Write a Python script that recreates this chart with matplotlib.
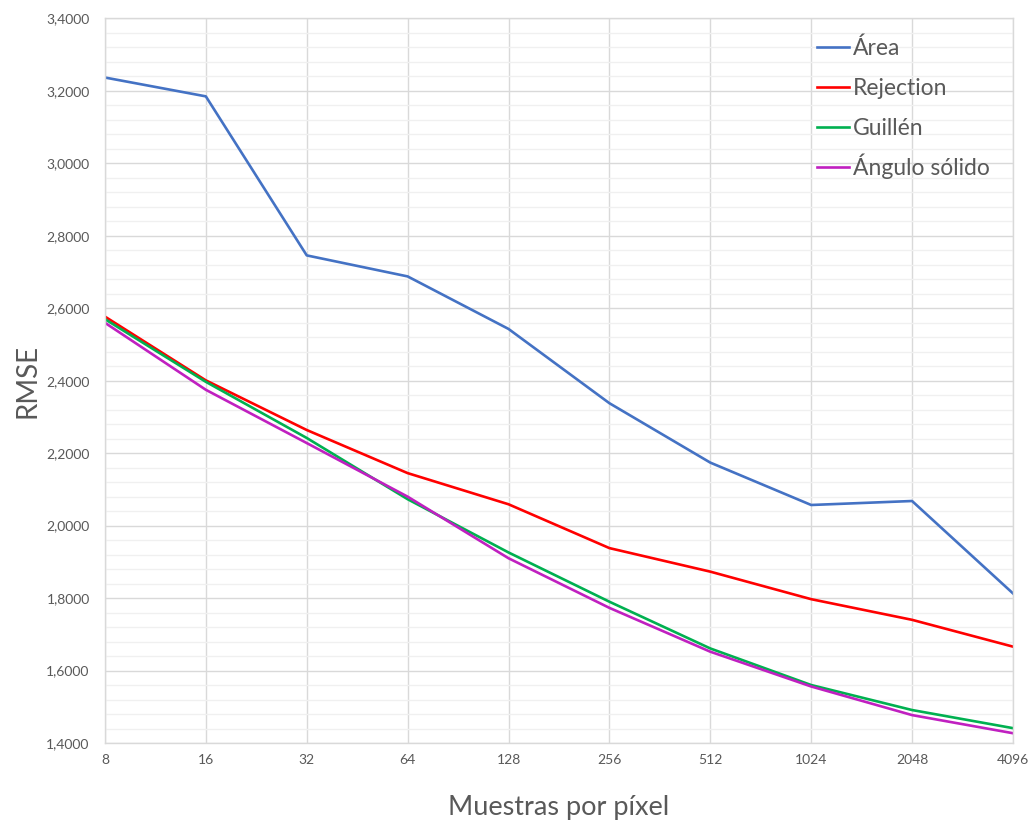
import matplotlib
matplotlib.use("Agg")
import matplotlib.pyplot as plt
from matplotlib.lines import Line2D
from matplotlib.ticker import MultipleLocator, FuncFormatter

plt.rcParams['font.family'] = ['Lato', 'DejaVu Sans']

samples = ["8", "16", "32", "64", "128", "256", "512", "1024", "2048", "4096"]
area = [3.237, 3.185, 2.746, 2.688, 2.543, 2.338, 2.174, 2.057, 2.068, 1.813]
rejection = [2.577, 2.401, 2.264, 2.145, 2.059, 1.938, 1.873, 1.797, 1.740, 1.666]
guillen = [2.570, 2.397, 2.242, 2.073, 1.926, 1.790, 1.661, 1.560, 1.491, 1.441]
angulo = [2.560, 2.375, 2.228, 2.080, 1.910, 1.773, 1.652, 1.556, 1.477, 1.427]

series_names = ["Área", "Rejection", "Guillén", "Ángulo sólido"]
colors = ["#4472C4", "#FF0000", "#00B050", "#C020C0"]

fig = plt.figure(figsize=(10.33, 8.25), dpi=100)
ax = fig.add_axes([0.1016, 0.0994, 0.879, 0.8782])

x = list(range(len(samples)))
for vals, name, c in zip([area, rejection, guillen, angulo], series_names, colors):
    ax.plot(x, vals, color=c, lw=1.9, label=name, solid_joinstyle='round')

ax.set_xlim(0, len(samples) - 1)
ax.set_ylim(1.4, 3.4)
ax.set_xticks(x)
ax.set_xticklabels(samples)
ax.yaxis.set_major_locator(MultipleLocator(0.2))
ax.yaxis.set_minor_locator(MultipleLocator(0.04))
ax.yaxis.set_major_formatter(FuncFormatter(lambda v, p: f"{v:.4f}".replace('.', ',')))

ax.grid(True, which='major', axis='both', color='#D9D9D9', lw=1.0)
ax.grid(True, which='minor', axis='y', color='#F0F0F0', lw=1.0)
ax.set_axisbelow(True)
for s in ax.spines.values():
    s.set_color('#D9D9D9')
    s.set_linewidth(1.0)

ax.tick_params(axis='both', which='both', length=0, colors='#595959', labelsize=10)
ax.tick_params(axis='x', pad=8)
ax.tick_params(axis='y', pad=11)

ax.set_ylabel("RMSE", fontsize=20, color='#595959', labelpad=4)
ax.set_xlabel("Muestras por píxel", fontsize=19.5, color='#595959', labelpad=21)

# Legend (drawn manually for even row spacing)
leg_x0, leg_x1, leg_tx = 0.7841, 0.8194, 0.8238
leg_y = [0.9607, 0.9055, 0.8502, 0.7950]
for name, c, yy in zip(series_names, colors, leg_y):
    ax.add_line(Line2D([leg_x0, leg_x1], [yy, yy], transform=ax.transAxes,
                       color=c, lw=1.9, clip_on=False))
    ax.text(leg_tx, yy - 0.0115, name, transform=ax.transAxes, fontsize=16.5,
            color='#595959', ha='left', va='baseline')

fig.savefig("out.png", dpi=100)
